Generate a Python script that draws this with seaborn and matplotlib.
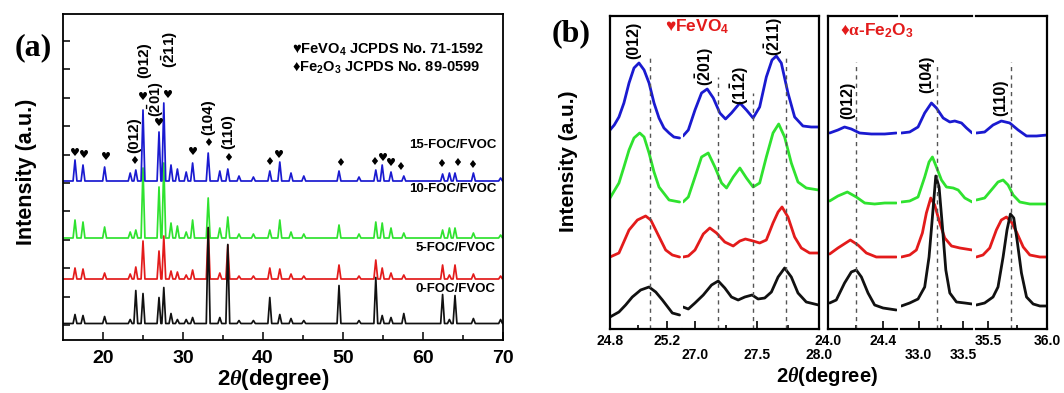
import matplotlib
matplotlib.use("Agg")
import matplotlib.pyplot as plt
import seaborn as sns

W, H = 1064, 393

# ---------------- panel (a) data: full XRD patterns ----------------
peak_2theta = [16.5, 17.5, 20.2, 23.4, 24.1, 25.0, 27.0, 27.6, 28.5, 29.3, 30.4, 31.2,
               33.15, 34.6, 35.6, 37.0, 38.8, 40.85, 42.1, 43.5, 45.1, 49.5, 52.0,
               54.1, 54.9, 56.0, 57.6, 62.45, 63.3, 64.0, 66.3, 69.7]
h_0foc = [9, 8, 7, 4, 33, 30, 26, 36, 10, 4, 4, 6, 96, 6, 79, 3, 3, 26, 9, 5, 3, 38, 3,
          46, 8, 6, 10, 29, 4, 28, 5, 4]
h_5foc = [11, 10, 6, 5, 12, 38, 28, 43, 8, 7, 4, 9, 51, 6, 34, 3, 3, 11, 10, 5, 3, 14, 3,
          19, 11, 6, 4, 14, 4, 14, 5, 3]
h_10foc = [18, 16, 11, 6, 8, 70, 51, 75, 15, 12, 6, 18, 40, 10, 21, 4, 4, 8, 18, 6, 4, 13, 4,
           16, 15, 10, 5, 8, 10, 10, 5, 3]
h_15foc = [21, 16, 14, 8, 11, 71, 49, 78, 16, 12, 9, 18, 28, 10, 12, 5, 4, 10, 19, 8, 5, 10, 4,
           11, 16, 9, 5, 7, 8, 8, 8, 3]
sample_names = ["15-FOC/FVOC", "10-FOC/FVOC", "5-FOC/FVOC", "0-FOC/FVOC"]
sample_offsets = [159, 102, 61, 16.5]

heart_2theta = [16.49, 17.61, 20.36, 25.0, 27.06, 28.15, 31.23, 42.06, 54.95, 56.05]
heart_y = [187, 185, 183, 243, 217, 245, 188, 185, 182, 177]
diamond_2theta = [23.93, 33.08, 35.61, 40.81, 49.62, 53.95, 57.2, 62.3, 64.23, 66.17]
diamond_y = [179, 197, 182, 178, 177, 178, 173, 176, 177, 175]
a_hkl_text = ["(012)", "(012)", r"($\bar{2}$01)", r"($\bar{2}$11)", "(104)", "(110)"]
a_hkl_x = [23.93, 25.2, 26.56, 28.4, 33.17, 35.61]
a_hkl_y = [205, 280, 241, 290, 223, 208]
a_hkl_size = [11, 11, 10.5, 11, 11, 11]
a_ytick_pos = [15, 43.5, 72, 100.5, 129, 157, 185.5, 214, 242, 271, 299.5]

# ---------------- panel (b) data: zoomed segments ----------------
s1_blue = [(24.80, 199), (24.83, 204), (24.863, 212), (24.898, 226), (24.934, 246), (24.969, 261),
           (25.004, 266), (25.04, 259), (25.075, 246), (25.11, 226), (25.145, 211), (25.18, 201),
           (25.216, 196), (25.25, 192), (25.29, 191)]
s1_green = [(24.80, 131), (24.863, 146), (24.898, 162), (24.934, 179), (24.969, 191), (25.009, 196),
            (25.04, 192), (25.075, 176), (25.11, 157), (25.145, 142), (25.216, 129), (25.29, 127)]
s1_red = [(24.80, 72), (24.863, 76), (24.934, 99), (24.993, 109), (25.051, 113), (25.087, 109),
          (25.122, 99), (25.192, 79), (25.239, 74), (25.29, 72)]
s1_black = [(24.80, 12), (24.863, 17), (24.91, 24), (24.957, 32), (25.016, 39), (25.075, 42),
            (25.122, 37), (25.169, 29), (25.239, 16), (25.29, 14)]

s2_blue = [(26.9, 193), (26.943, 199), (26.997, 219), (27.05, 236), (27.096, 240), (27.145, 231),
           (27.198, 216), (27.244, 210), (27.292, 216), (27.36, 226), (27.413, 219), (27.467, 211),
           (27.52, 222), (27.574, 252), (27.62, 269), (27.655, 273), (27.695, 266), (27.749, 236),
           (27.803, 212), (27.87, 203), (27.937, 202), (27.996, 202)]
s2_green = [(26.9, 127), (26.943, 132), (26.997, 152), (27.05, 172), (27.104, 176), (27.158, 162),
            (27.212, 146), (27.252, 141), (27.306, 152), (27.36, 161), (27.413, 151), (27.467, 142),
            (27.52, 146), (27.574, 172), (27.628, 196), (27.674, 205), (27.722, 192), (27.776, 166),
            (27.83, 147), (27.897, 141), (27.996, 139)]
s2_red = [(26.9, 72), (26.943, 73), (26.997, 79), (27.064, 95), (27.117, 101), (27.171, 96),
          (27.238, 87), (27.306, 83), (27.36, 88), (27.405, 90), (27.467, 88), (27.52, 86),
          (27.574, 89), (27.628, 106), (27.669, 117), (27.701, 122), (27.749, 112), (27.803, 92),
          (27.857, 81), (27.924, 76), (27.996, 76)]
s2_black = [(26.9, 22), (26.943, 20), (26.997, 26), (27.064, 34), (27.131, 44), (27.185, 48),
            (27.238, 41), (27.292, 32), (27.346, 29), (27.4, 32), (27.459, 34), (27.507, 30),
            (27.561, 31), (27.615, 37), (27.669, 52), (27.722, 61), (27.776, 52), (27.83, 36),
            (27.897, 27), (27.996, 24)]

s3_blue = [(24.012, 196), (24.072, 199), (24.12, 202), (24.169, 200), (24.229, 196), (24.314, 195),
           (24.411, 195), (24.495, 196)]
s3_green = [(24.012, 128), (24.072, 133), (24.14, 137), (24.205, 132), (24.266, 126), (24.338, 125),
            (24.411, 126), (24.495, 126)]
s3_red = [(24.012, 75), (24.072, 81), (24.162, 89), (24.217, 84), (24.278, 76), (24.35, 72),
          (24.423, 72), (24.495, 72)]
s3_black = [(24.012, 26), (24.06, 29), (24.12, 46), (24.169, 57), (24.205, 59), (24.242, 52),
            (24.29, 36), (24.338, 24), (24.399, 21), (24.495, 19)]

s4_blue = [(32.804, 196), (32.898, 197), (32.992, 202), (33.067, 216), (33.143, 226), (33.199, 221),
           (33.275, 211), (33.35, 207), (33.406, 208), (33.482, 206), (33.538, 201), (33.602, 196)]
s4_green = [(32.804, 127), (32.898, 128), (32.992, 132), (33.067, 152), (33.116, 167), (33.154, 172),
            (33.199, 162), (33.256, 149), (33.312, 142), (33.388, 141), (33.444, 139), (33.519, 131),
            (33.602, 127)]
s4_red = [(32.804, 72), (32.898, 74), (32.973, 79), (33.041, 96), (33.086, 116), (33.135, 131),
          (33.18, 124), (33.237, 106), (33.293, 91), (33.369, 83), (33.463, 81), (33.602, 79)]
s4_black = [(32.804, 23), (32.898, 26), (32.992, 30), (33.067, 42), (33.116, 72), (33.154, 112),
            (33.192, 153), (33.229, 142), (33.267, 102), (33.305, 59), (33.35, 36), (33.425, 27),
            (33.519, 26), (33.602, 25)]

s5_blue = [(35.403, 196), (35.473, 197), (35.544, 204), (35.614, 208), (35.685, 206), (35.756, 199),
           (35.827, 193), (35.912, 193), (36.0, 194)]
s5_green = [(35.403, 129), (35.473, 131), (35.544, 141), (35.586, 147), (35.629, 149), (35.671, 144),
            (35.714, 134), (35.77, 127), (35.855, 125), (35.94, 125), (36.0, 125)]
s5_red = [(35.403, 72), (35.459, 74), (35.516, 81), (35.572, 99), (35.614, 109), (35.657, 112),
          (35.699, 107), (35.742, 97), (35.799, 82), (35.855, 74), (35.94, 72), (36.0, 72)]
s5_black = [(35.403, 24), (35.473, 26), (35.544, 32), (35.586, 42), (35.629, 72), (35.662, 99),
            (35.691, 115), (35.719, 111), (35.747, 89), (35.784, 56), (35.827, 32), (35.883, 25),
            (35.94, 23), (36.0, 23)]

seg_limits = [(24.8, 25.3), (26.9, 28.0), (24.0, 24.5), (32.8, 33.6), (35.4, 36.0)]
seg_major = [[24.8, 25.2], [27.0, 27.5, 28.0], [24.0, 24.4], [33.0, 33.5], [35.5, 36.0]]
seg_minor = [[25.0], [27.25, 27.75], [24.2], [33.25], [35.75]]
seg_ref_x = [[25.08], [27.18, 27.467, 27.73], [24.2], [33.21], [35.694]]
seg_ref_top = [[274], [252, 236, 272], [267], [266], [267]]
seg_hkl = [[("(012)", 24.97, 289)],
           [(r"($\bar{2}$01)", 27.077, 262), (r"(1$\bar{1}$2)", 27.36, 243),
            (r"($\bar{2}$11)", 27.636, 292)],
           [("(012)", 24.14, 229)], [("(104)", 33.086, 255)], [("(110)", 35.606, 231)]]

# ---------------- styling ----------------
COL = {"blue": "#1a1ad0", "green": "#2fe22f", "red": "#e31b1b", "black": "#111111"}

sns.set_theme(style="ticks")
plt.rcParams.update({
    "font.family": ["Liberation Sans", "DejaVu Sans"],
    "font.weight": "bold",
    "mathtext.fontset": "custom",
    "mathtext.bf": "Liberation Sans:bold",
    "mathtext.sf": "Liberation Sans:bold",
    "mathtext.rm": "Liberation Serif",
    "mathtext.it": "Liberation Serif:italic",
    "mathtext.default": "bf",
    "axes.edgecolor": "black",
    "text.color": "black",
    "xtick.color": "black",
    "ytick.color": "black",
    "xtick.direction": "in",
    "ytick.direction": "in",
    "lines.solid_joinstyle": "round",
    "lines.solid_capstyle": "round",
})

fig = plt.figure(figsize=(W / 100, H / 100), dpi=100)


def px_axes(l, t, r, b):
    return fig.add_axes([l / W, 1 - b / H, (r - l) / W, (b - t) / H])


def fp(x, y):
    return x / W, 1 - y / H


def pattern(base, heights, hw=0.24):
    xs, ys = [15.0], [base]
    for p, h in zip(peak_2theta, heights):
        xs += [p - hw, p, p + hw]
        ys += [base, base + h, base]
    xs.append(70.0)
    ys.append(base)
    return xs, ys


# ---------------- panel (a) ----------------
axa = px_axes(63, 14, 503, 340)
series_a = [("green", sample_offsets[1], h_10foc), ("blue", sample_offsets[0], h_15foc),
            ("red", sample_offsets[2], h_5foc), ("black", sample_offsets[3], h_0foc)]
for col, base, hts in series_a:
    xs, ys = pattern(base, hts)
    sns.lineplot(x=xs, y=ys, ax=axa, color=COL[col], lw=1.25, estimator=None, sort=False)
axa.set_xlim(15, 70)
axa.set_ylim(0, 326)
axa.set_xticks([20, 30, 40, 50, 60, 70])
axa.set_xticks([25, 35, 45, 55, 65], minor=True)
axa.set_yticks(a_ytick_pos)
axa.set_yticklabels([])
axa.tick_params(axis="x", which="major", length=6, width=1.1, labelsize=14, pad=7)
axa.tick_params(axis="x", which="minor", length=3.5, width=1.1)
axa.tick_params(axis="y", which="major", length=5, width=1.1)
axa.set_xlabel("")
axa.set_ylabel("")
for sp in axa.spines.values():
    sp.set_linewidth(1.3)
    sp.set_visible(True)

for x, y in zip(heart_2theta, heart_y):
    axa.text(x, y, "\u2665", ha="center", va="center", fontsize=8,
             family=["DejaVu Sans"], color="black")
for x, y in zip(diamond_2theta, diamond_y):
    axa.text(x, y, "\u2666", ha="center", va="center", fontsize=8,
             family=["DejaVu Sans"], color="black")
for t, x, y, s in zip(a_hkl_text, a_hkl_x, a_hkl_y, a_hkl_size):
    axa.text(x, y, t, rotation=90, ha="center", va="center", fontsize=s)

label_y_px = [145, 189, 248, 289]
for name, yy in zip(sample_names, label_y_px):
    fig.text(*fp(496, yy), name, ha="right", va="center", fontsize=9.5)

fig.text(*fp(292, 50), "\u2665FeVO$_4$ JCPDS No. 71-1592", ha="left", va="center", fontsize=10.5)
fig.text(*fp(292, 68), "\u2666Fe$_2$O$_3$ JCPDS No. 89-0599", ha="left", va="center", fontsize=10.5)
fig.text(*fp(33, 48), "(a)", ha="center", va="center", fontsize=23,
         family=["Liberation Serif"], weight="bold")
fig.text(*fp(27, 172), "Intensity (a.u.)", rotation=90, ha="center", va="center", fontsize=15.5)
fig.text(*fp(273, 379), r"2$\mathit{\theta}$(degree)", ha="center", va="center", fontsize=16)

# ---------------- panel (b) ----------------
seg_px = [(610, 681), (683, 819), (828, 897), (901, 972), (976, 1047)]
seg_data = [(s1_blue, s1_green, s1_red, s1_black), (s2_blue, s2_green, s2_red, s2_black),
            (s3_blue, s3_green, s3_red, s3_black), (s4_blue, s4_green, s4_red, s4_black),
            (s5_blue, s5_green, s5_red, s5_black)]
label_row = ["up", "low", "up", "low", "up"]
show_left = [True, False, True, False, False]
show_right = [False, True, False, False, True]

for i, (l, r) in enumerate(seg_px):
    ax = px_axes(l, 16, r, 329)
    for col, pts in zip(["blue", "green", "red", "black"], seg_data[i]):
        xs = [p[0] for p in pts]
        ys = [p[1] for p in pts]
        sns.lineplot(x=xs, y=ys, ax=ax, color=COL[col], lw=2.0, estimator=None, sort=False)
    ax.set_xlim(*seg_limits[i])
    ax.set_ylim(0, 313)
    for rx, rt in zip(seg_ref_x[i], seg_ref_top[i]):
        ax.vlines(rx, 0, rt, colors="#555555", linestyles=(0, (3, 3)), lw=1.0)
    for t, x, y in seg_hkl[i]:
        ax.text(x, y, t, rotation=90, ha="center", va="center", fontsize=11.5)
    ax.set_xticks(seg_major[i])
    ax.set_xticklabels([f"{v:.1f}" for v in seg_major[i]])
    ax.set_xticks(seg_minor[i], minor=True)
    ax.set_yticks([])
    pad = 3.5 if label_row[i] == "up" else 14
    ax.tick_params(axis="x", which="major", length=6, width=1.2, labelsize=10, pad=pad)
    ax.tick_params(axis="x", which="minor", length=3, width=1.2)
    ax.set_xlabel("")
    ax.set_ylabel("")
    ax.spines["left"].set_visible(show_left[i])
    ax.spines["right"].set_visible(show_right[i])
    ax.spines["top"].set_visible(True)
    for sp in ax.spines.values():
        sp.set_linewidth(1.6)

fig.text(*fp(665, 27), "\u2665FeVO$_4$", ha="left", va="center", fontsize=12.5, color=COL["red"])
fig.text(*fp(840, 31), "\u2666$\\mathrm{\\alpha}$-Fe$_2$O$_3$", ha="left", va="center",
         fontsize=12.5, color=COL["red"])
fig.text(*fp(571, 34), "(b)", ha="center", va="center", fontsize=23,
         family=["Liberation Serif"], weight="bold")
fig.text(*fp(569, 161), "Intensity (a.u.)", rotation=90, ha="center", va="center", fontsize=15)
fig.text(*fp(827, 376), r"2$\mathit{\theta}$(degree)", ha="center", va="center", fontsize=14.5)

fig.savefig("out.png", dpi=100)
